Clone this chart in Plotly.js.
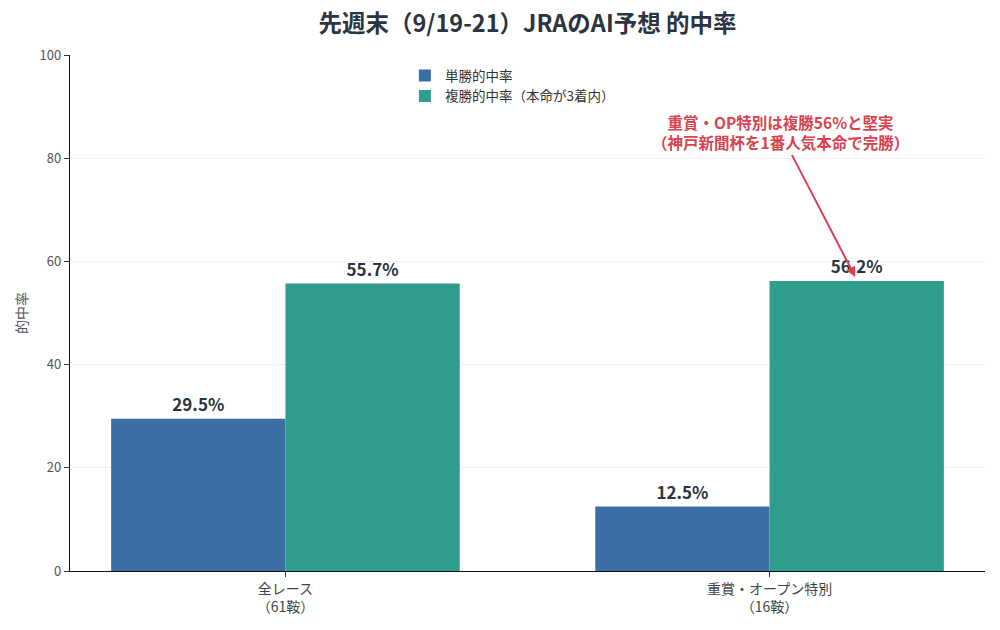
<!DOCTYPE html>
<html>
<head>
<meta charset="utf-8">
<script src="https://cdn.plot.ly/plotly-3.0.1.min.js"></script>
<style>
  html, body { margin: 0; padding: 0; background: #fff; }
  #chart { width: 1000px; height: 630px; }
</style>
</head>
<body>
<div id="chart"></div>
<script>
// categories and values
const categories = ['全レース<br>（61鞍）', '重賞・オープン特別<br>（16鞍）']
const winRate = [29.5, 12.5]
const placeRate = [55.7, 56.2]
const seriesNames = ['単勝的中率', '複勝的中率（本命が3着内）']
const noteText = '重賞・OP特別は複勝56%と堅実<br>（神戸新聞杯を1番人気本命で完勝）'

const FONT = '"Noto Sans CJK JP", "Noto Sans", sans-serif'
const textColor = '#2b3440'
const xIdx = [0, 1]

var traces = [
    {
        x: xIdx,
        y: winRate,
        name: seriesNames[0],
        type: 'bar',
        offset: -0.36,
        width: 0.36,
        marker: {color: '#3a6ea5'},
        text: winRate.map(v => v.toFixed(1) + '%'),
        textposition: 'outside',
        textfont: {family: FONT, size: 17, color: textColor, weight: 'bold'},
        cliponaxis: false,
        hoverinfo: 'skip',
    },
    {
        x: xIdx,
        y: placeRate,
        name: seriesNames[1],
        type: 'bar',
        offset: 0,
        width: 0.36,
        marker: {color: '#2e9d8b'},
        text: placeRate.map(v => v.toFixed(1) + '%'),
        textposition: 'outside',
        textfont: {family: FONT, size: 17, color: textColor, weight: 'bold'},
        cliponaxis: false,
        hoverinfo: 'skip',
    },
]

var layout = {
    width: 1000,
    height: 630,
    font: {family: FONT, color: '#444'},
    paper_bgcolor: '#fff',
    plot_bgcolor: '#fff',
    margin: {l: 70, r: 15, t: 55, b: 59},
    title: {
        text: '<b>先週末（9/19-21）JRAのAI予想 的中率</b>',
        font: {family: FONT, size: 23.5, color: textColor},
        xref: 'paper', x: 0.5, xanchor: 'center',
        y: 0.962, yanchor: 'middle',
    },
    barmode: 'overlay',
    showlegend: true,
    legend: {
        x: 0.366, y: 0.99, xanchor: 'left', yanchor: 'top',
        font: {family: FONT, size: 13.5, color: '#333'},
        bgcolor: 'rgba(255,255,255,0)',
        itemwidth: 30,
        tracegroupgap: 2,
    },
    xaxis: {
        range: [-0.445, 1.445],
        tickvals: xIdx,
        ticktext: categories,
        tickfont: {family: FONT, size: 14, color: '#444'},
        ticks: 'outside',
        ticklen: 5,
        tickcolor: '#333',
        showline: true,
        linecolor: '#111',
        linewidth: 1.2,
        showgrid: false,
        zeroline: false,
        fixedrange: true,
    },
    yaxis: {
        range: [0, 100],
        tickvals: [0, 20, 40, 60, 80, 100],
        tickfont: {family: FONT, size: 13, color: '#555'},
        ticks: 'outside',
        ticklen: 5,
        tickcolor: '#333',
        showline: true,
        linecolor: '#111',
        linewidth: 1.2,
        showgrid: true,
        gridcolor: '#f0f0f0',
        zeroline: false,
        fixedrange: true,
        title: {text: '的中率', font: {family: FONT, size: 14, color: '#555'}, standoff: 8},
    },
    annotations: [
        {
            x: 1.177, y: 57.0,
            ax: 1.022, ay: 85.0,
            xref: 'x', yref: 'y', axref: 'x', ayref: 'y',
            text: '<b>' + noteText + '</b>',
            font: {family: FONT, size: 15.5, color: '#d9434f'},
            showarrow: true,
            arrowhead: 2,
            arrowsize: 1,
            arrowwidth: 2,
            arrowcolor: '#d9434f',
            standoff: 0,
            align: 'center',
        },
    ],
}

Plotly.newPlot('chart', traces, layout, {displayModeBar: false, staticPlot: true})
</script>
</body>
</html>
